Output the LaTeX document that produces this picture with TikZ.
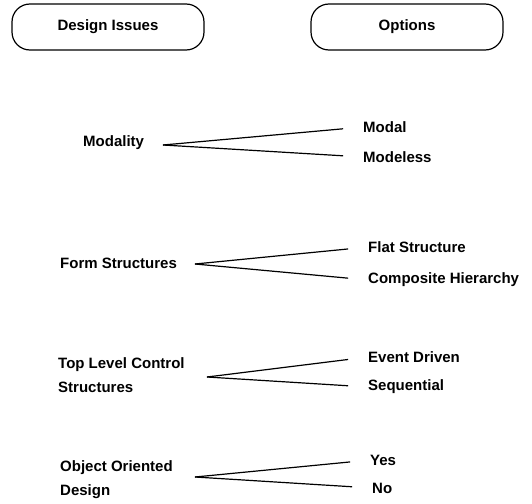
\documentclass[tikz,border=0pt]{standalone}
\usepackage{fontspec}
\setmainfont{Liberation Sans}
\usetikzlibrary{calc}

\tikzset{
  headbox/.style={draw, rounded corners=18pt, minimum width=192pt, minimum height=46pt, line width=1.2pt},
  issue/.style={anchor=west, inner sep=0pt, align=left},
  option/.style={anchor=west, inner sep=0pt},
  branch/.style={line width=1.2pt, shorten >=20pt}
}

\begin{document}
\begin{tikzpicture}[x=1pt, y=-1pt, color=black, font=\bfseries\fontsize{15}{24}\selectfont]
		\useasboundingbox (0,0) rectangle (532,503);
		
		% headings
		\node[headbox] (issues) at (108,27) {Design Issues};
		\node[headbox] (options) at (407,27) {Options};
		
		% modality
		\node[issue] (modality) at (83,143) {Modality};
		\coordinate (modJ) at (163,145);
		\node[option] (modal) at (363,127) {Modal};
		\node[option] (modeless) at (363,157) {Modeless};
		\draw[branch] (modJ) -- (modal.west);
		\draw[branch] (modJ) -- (modeless.west);
		
		% form structures
		\node[issue] (form) at (60,263) {Form Structures};
		\coordinate (formJ) at (195,264);
		\node[option] (flat) at (368,247) {Flat Structure};
		\node[option] (composite) at (368,280) {Composite Hierarchy};
		\draw[branch] (formJ) -- (flat.west);
		\draw[branch] (formJ) -- (composite.west);
		
		% top level control
		\node[issue] (control) at (58,375) {Top Level Control\\Structures};
		\coordinate (controlJ) at (207,377);
		\node[option] (event) at (368,357) {Event Driven};
		\node[option] (sequential) at (368,387) {Sequential};
		\draw[branch] (controlJ) -- (event.west);
		\draw[branch] (controlJ) -- (sequential.west);
		
		% object oriented
		\node[issue] (object) at (60,480) {Object Oriented\\Design};
		\coordinate (objectJ) at (195,477);
		\node[option] (yes) at (370,460) {Yes};
		\node[option] (no) at (372,488) {No};
		\draw[branch] (objectJ) -- (yes.west);
		\draw[branch] (objectJ) -- (no.west);
	\end{tikzpicture}
\end{document}
